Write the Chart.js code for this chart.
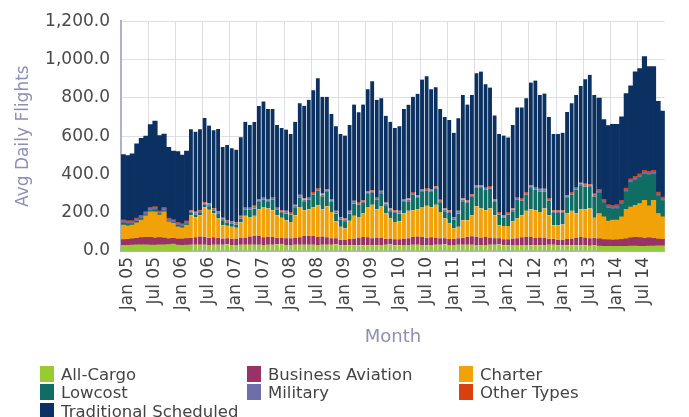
<!DOCTYPE html>
<html>
<head>
<meta charset="utf-8">
<script src="https://cdn.jsdelivr.net/npm/chart.js@4"></script>
<style>
  body { margin: 0; background: #fff; }
  #wrap { position: relative; width: 689px; height: 417px; }
  #legend { position: absolute; left: 0; top: 0; width: 689px; height: 417px; pointer-events: none;
            font-family: "DejaVu Sans", sans-serif; font-size: 16.5px; color: #444; }
  .item { position: absolute; height: 18px; display: flex; align-items: center; white-space: nowrap; }
  .box { width: 14px; height: 16px; margin-right: 7px; }
</style>
</head>
<body>
<div id="wrap">
  <canvas id="chart" width="689" height="417"></canvas>
  <div id="legend"></div>
</div>
<script>
// categories: Jan 05 .. Dec 14
const years = ['05', '06', '07', '08', '09', '10', '11', '12', '13', '14'];
const monthNames = ['Jan', 'Feb', 'Mar', 'Apr', 'May', 'Jun', 'Jul', 'Aug', 'Sep', 'Oct', 'Nov', 'Dec'];
const labels = [];
years.forEach(y => monthNames.forEach(m => labels.push(m + ' ' + y)));

// one row per year
const allCargo = [
  30,30,31,32,32,32,31,31,32,32,33,36,
  31,30,31,32,32,33,32,31,32,32,33,35,
  31,31,32,32,33,33,32,31,32,33,34,35,
  31,31,32,32,33,33,32,31,32,32,33,34,
  29,29,30,30,30,30,30,29,30,31,32,34,
  30,30,31,31,32,32,31,30,31,32,33,34,
  31,31,32,32,32,32,31,30,31,32,33,34,
  30,30,31,31,31,31,30,29,30,31,32,33,
  29,29,30,30,30,30,29,28,29,26,25,25,
  24,24,25,25,26,26,25,25,26,26,27,27
];
const businessAviation = [
  30,31,32,34,38,40,40,36,38,35,31,30,
  31,32,34,36,40,43,42,38,40,37,32,31,
  33,34,36,38,43,47,46,41,43,40,35,33,
  35,36,38,40,45,48,47,42,44,40,34,32,
  30,31,33,35,40,43,42,38,40,37,32,31,
  31,32,34,36,41,44,43,39,41,38,33,32,
  32,33,35,37,42,45,44,40,42,38,33,32,
  31,32,34,36,41,44,43,39,41,37,32,31,
  30,31,33,35,40,43,42,38,40,37,34,33,
  33,34,36,38,43,46,45,41,43,40,35,34
];
const charter = [
  75,71,72,81,91,112,133,137,117,137,88,78,
  64,59,70,119,103,111,153,147,124,101,70,66,
  62,56,81,114,102,104,140,158,147,140,118,105,
  95,85,117,158,135,137,148,166,142,162,137,90,
  67,58,95,119,108,123,158,175,148,164,132,105,
  91,94,131,143,140,142,156,167,155,172,138,104,
  81,54,59,92,87,110,159,152,140,152,121,69,
  69,68,91,103,115,135,145,145,133,154,123,71,
  76,79,133,145,126,145,147,156,104,133,119,98,
  104,103,117,155,161,167,178,199,167,199,134,117
];
const lowcost = [
  11,10,7,8,8,5,6,11,6,6,3,3,
  8,6,6,11,16,12,13,18,14,24,25,16,
  16,17,21,32,38,38,38,38,34,55,29,26,
  35,38,41,50,47,50,67,76,68,74,52,40,
  38,38,38,64,64,55,68,61,50,69,43,38,
  47,40,60,50,81,59,78,79,81,82,50,38,
  55,46,70,99,90,95,95,107,107,103,69,55,
  43,60,52,98,76,84,111,107,107,89,76,64,
  64,60,81,84,124,125,119,112,112,107,73,67,
  58,61,67,91,127,131,135,136,160,136,92,84
];
const military = [
  13,13,13,13,13,13,13,13,13,13,13,13,
  12,12,12,10,10,10,10,10,10,10,10,10,
  9,9,9,9,9,9,9,9,9,9,9,9,
  9,9,9,9,9,9,9,9,9,9,9,9,
  9,9,9,9,9,9,9,9,9,9,9,9,
  9,9,9,9,9,9,9,9,9,9,9,9,
  9,9,9,9,9,9,9,9,9,9,9,9,
  9,9,9,9,9,9,9,9,9,9,9,9,
  9,9,9,9,9,9,9,9,9,11,11,11,
  11,11,11,11,11,11,11,11,11,11,11,11
];
const otherTypes = [
  4,4,4,4,4,4,4,4,4,4,4,4,
  4,4,4,4,4,4,4,4,4,4,4,4,
  5,5,5,5,5,5,5,5,5,5,5,5,
  5,5,5,5,5,5,5,5,5,5,5,5,
  5,5,5,5,5,5,5,5,5,5,5,5,
  5,5,5,5,5,5,5,5,5,5,5,5,
  5,5,5,5,5,5,5,5,5,5,5,5,
  5,5,5,5,5,5,5,5,5,5,5,5,
  5,5,5,5,5,5,5,5,5,8,8,8,
  9,9,9,9,9,9,9,9,9,9,9,9
];
const traditionalScheduled = [
  341,339,349,388,402,394,433,446,393,384,369,358,
  369,358,365,424,418,423,440,407,407,429,369,392,
  381,377,410,445,428,437,487,499,471,459,428,429,
  424,407,433,478,484,508,532,573,505,483,445,441,
  433,433,448,503,468,500,533,570,508,483,453,453,
  429,441,471,490,497,530,573,584,523,517,473,478,
  471,439,483,540,500,518,585,594,537,515,438,407,
  416,389,436,468,473,490,537,556,489,497,423,398,
  398,405,435,464,480,505,546,572,515,476,416,413,
  423,420,435,493,485,545,549,594,547,542,473,449
];

// months drawn with a thin white gap between bars (Apr 06 .. Sep 13)
const gapFrom = 15, gapTo = 104;

function series(label, data, color) {
  return {
    label: label,
    data: data,
    backgroundColor: color,
    borderColor: '#ffffff',
    borderWidth: ctx => (ctx.dataIndex >= gapFrom && ctx.dataIndex <= gapTo)
      ? { left: 0, right: 1, top: 0, bottom: 0 } : 0,
    borderSkipped: false,
    barPercentage: 1,
    categoryPercentage: 1
  };
}

const datasets = [
  series('All-Cargo', allCargo, '#98cb32'),
  series('Business Aviation', businessAviation, '#993366'),
  series('Charter', charter, '#f1a208'),
  series('Lowcost', lowcost, '#0f6d63'),
  series('Military', military, '#6e6ea8'),
  series('Other Types', otherTypes, '#d8400e'),
  series('Traditional Scheduled', traditionalScheduled, '#0a3161')
];

const titleColor = '#8d8fb8';
const gridColor = '#dedee9';
const axisColor = '#aeb0cc';

const chart = new Chart(document.getElementById('chart').getContext('2d'), {
  type: 'bar',
  data: { labels: labels, datasets: datasets },
  options: {
    responsive: false,
    animation: false,
    devicePixelRatio: 1,
    layout: { padding: { top: 20, right: 5, bottom: 66, left: 0 } },
    plugins: { legend: { display: false }, tooltip: { enabled: false } },
    scales: {
      x: {
        stacked: true,
        grid: {
          offset: true,
          drawTicks: false,
          color: ctx => (ctx.index % 6 === 0 ? gridColor : 'rgba(0,0,0,0)')
        },
        border: { color: axisColor, width: 2 },
        ticks: {
          autoSkip: false,
          maxRotation: 90,
          minRotation: 90,
          labelOffset: 4,
          padding: 6,
          color: '#444',
          font: { family: 'DejaVu Sans', size: 17 },
          // only Jan and Jul are labelled
          callback: function (v, i) { return i % 6 === 0 ? this.getLabelForValue(v) : ''; }
        },
        title: {
          display: true,
          text: 'Month',
          color: titleColor,
          font: { family: 'DejaVu Sans', size: 18 },
          padding: { top: 0, bottom: 3 }
        },
        afterFit: scale => { scale.height = 100; }
      },
      y: {
        stacked: true,
        min: 0,
        max: 1200,
        grid: { color: gridColor, drawTicks: false },
        border: { color: axisColor, width: 2 },
        ticks: {
          stepSize: 100,
          padding: 11,
          color: '#4a4a4a',
          font: { family: 'DejaVu Sans', size: 17 },
          callback: v => (v % 200 === 0
            ? v.toLocaleString('en-US', { minimumFractionDigits: 1, maximumFractionDigits: 1 }) : '')
        },
        title: {
          display: true,
          text: 'Avg Daily Flights',
          color: titleColor,
          font: { family: 'DejaVu Sans', size: 17 },
          padding: { top: 13, bottom: 0 }
        },
        afterFit: scale => { scale.width = 121; }
      }
    }
  }
});

// legend in three columns under the chart
const colX = [40, 247, 459];
const rowY = [365, 383, 402];
const legendEl = document.getElementById('legend');
chart.data.datasets.forEach((ds, i) => {
  const item = document.createElement('div');
  item.className = 'item';
  item.style.left = colX[i % 3] + 'px';
  item.style.top = rowY[Math.floor(i / 3)] + 'px';
  const box = document.createElement('span');
  box.className = 'box';
  box.style.background = ds.backgroundColor;
  item.appendChild(box);
  item.appendChild(document.createTextNode(ds.label));
  legendEl.appendChild(item);
});
</script>
</body>
</html>
